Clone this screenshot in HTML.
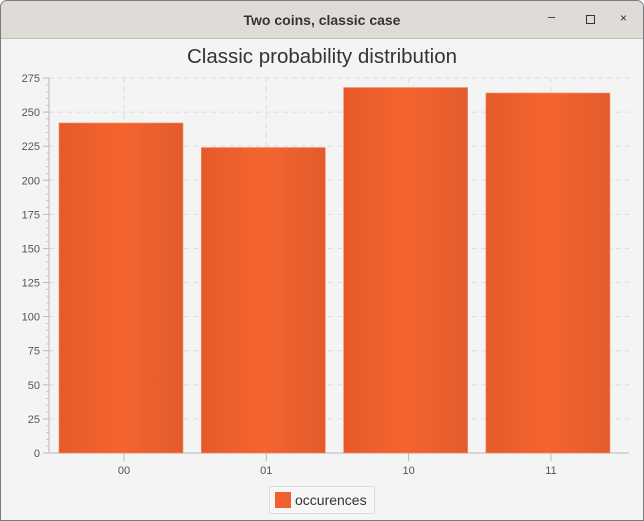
<!DOCTYPE html>
<html><head><meta charset="utf-8"><style>
body{margin:0;width:644px;height:521px;overflow:hidden;background:#fff;font-family:"Liberation Sans","DejaVu Sans",sans-serif}
#win{position:absolute;left:0;top:0;width:642px;height:519px;border:1px solid #7a7a7a;border-radius:7px 7px 0 0;background:#f4f4f4;overflow:hidden}
#tb{position:absolute;left:0;top:0;width:642px;height:37px;background:#dfdcd8;border-bottom:1px solid #c0bdb8}
#tt{position:absolute;left:0;width:642px;top:11px;text-align:center;font-weight:bold;font-size:14px;color:#333}
</style></head><body>
<div id="win">
<div id="tb">
<div id="tt">Two coins, classic case</div>
<span style="position:absolute;left:547px;top:8px;font-size:13px;color:#333">–</span>
<span style="position:absolute;left:585px;top:14px;width:7px;height:7px;border:1px solid #333"></span>
<span style="position:absolute;left:619px;top:10px;font-size:12px;color:#333">×</span>
</div>
</div>
<svg id="c" width="644" height="521" style="position:absolute;left:0;top:0"></svg>
<script>
const categories=["00","01","10","11"];
const values=[242,224,268,264];
const yTicks=[0,25,50,75,100,125,150,175,200,225,250,275];
const NS="http://www.w3.org/2000/svg";
const svg=document.getElementById('c');
const L=49,R=629,T=78,B=453,yMax=275;
const y=v=>B-(B-T)*v/yMax;
const x=i=>121+i*142.3;
function mk(t,a,p){const e=document.createElementNS(NS,t);for(const k in a)e.setAttribute(k,a[k]);(p||svg).appendChild(e);return e;}
const defs=mk('defs',{});
const g=mk('linearGradient',{id:'bg',x1:0,x2:1,y1:0,y2:0},defs);
mk('stop',{offset:'0','stop-color':'#e65a2a'},g);mk('stop',{offset:'0.5','stop-color':'#f4642f'},g);mk('stop',{offset:'1','stop-color':'#e45b2c'},g);
let t=mk('text',{x:322,y:63,'text-anchor':'middle','font-size':20.5,fill:'#333'});t.textContent='Classic probability distribution';


yTicks.forEach(v=>{
 if(v>0){const l=mk('line',{x1:L,x2:R,y1:y(v),y2:y(v),stroke:'#dcdcdc','stroke-dasharray':'5,4'});
 
 }
 mk('line',{x1:L-6,x2:L,y1:y(v),y2:y(v),stroke:'#b8b8b8'});
 const tx=mk('text',{x:L-9,y:y(v)+4,'text-anchor':'end','font-size':11,fill:'#555'});tx.textContent=v;
 
 
 if(v<yMax)for(let k=1;k<5;k++){const yy=y(v+k*5);mk('line',{x1:L-3,x2:L,y1:yy,y2:yy,stroke:'#c8c8c8'});}
});
categories.forEach((c,i)=>{
 const l=mk('line',{x1:x(i)+3,x2:x(i)+3,y1:T,y2:B,stroke:'#dcdcdc','stroke-dasharray':'5,4'});
 
 
});
mk('line',{x1:L,x2:L,y1:T,y2:B,stroke:'#b8b8b8'});
mk('line',{x1:L,x2:R,y1:B,y2:B,stroke:'#b8b8b8'});
categories.forEach((c,i)=>{
 const r=mk('rect',{x:x(i)-62,y:y(values[i]),width:124,height:B-y(values[i]),fill:'url(#bg)',stroke:'#f08a66','stroke-width':0.6});
 
 
 mk('line',{x1:x(i)+3,x2:x(i)+3,y1:B,y2:B+8,stroke:'#b8b8b8'});
 const tx=mk('text',{x:x(i)+3,y:B+21,'text-anchor':'middle','font-size':11,fill:'#555'});tx.textContent=c;
 
 
});
const lg=mk('g',{});


mk('rect',{x:269.5,y:486.5,width:105,height:27,rx:2,fill:'#f6f6f6',stroke:'#dadada'},lg);
mk('rect',{x:275,y:492,width:16,height:16,fill:'#f05f2d'},lg);
const lt=mk('text',{x:295,y:505,'font-size':14,fill:'#333'},lg);lt.textContent='occurences';
</script>
</body></html>
